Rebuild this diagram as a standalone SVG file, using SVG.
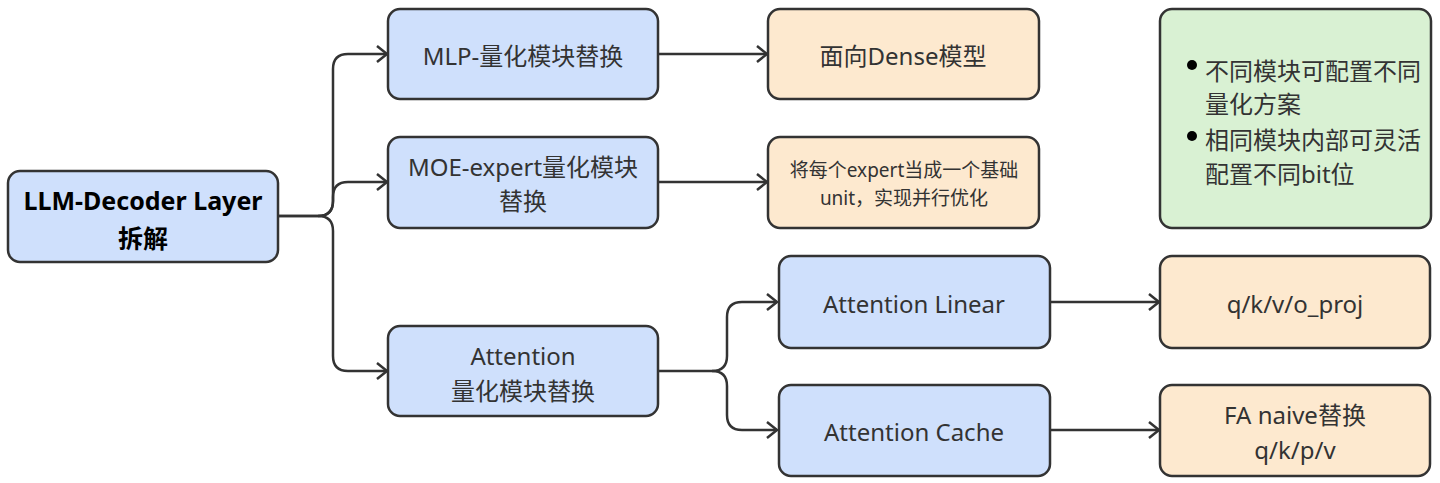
<svg xmlns="http://www.w3.org/2000/svg" width="1440" height="483" viewBox="0 0 1440 483">
<defs>
<style>
.box{stroke:#333;stroke-width:2.5}
.blue{fill:#cfe0fc}
.orange{fill:#fde9cf}
.green{fill:#d9f1d3}
.t{font-family:"Noto Sans","Noto Sans CJK SC",sans-serif;font-size:24px;fill:#333;text-anchor:middle;dominant-baseline:central}
.s{font-size:19px}
.b{font-weight:bold;fill:#000;font-size:25px}
.l{text-anchor:start}
.c{fill:none;stroke:#333;stroke-width:2.5}
</style>
<marker id="arr" markerUnits="userSpaceOnUse" markerWidth="14" markerHeight="20" viewBox="0 0 14 20" refX="12" refY="10" orient="auto">
<path d="M2,2 L12,10 L2,18" fill="none" stroke="#333" stroke-width="2.5"/>
</marker>
</defs>
<rect width="1440" height="483" fill="#fff"/>
<g id="connectors">
<path class="c" d="M278,216 H318 Q333,216 333,201 V69 Q333,54 348,54 H387" marker-end="url(#arr)"/>
<path class="c" d="M318,216 Q333,216 333,201 V197 Q333,182 348,182 H387" marker-end="url(#arr)"/>
<path class="c" d="M278,216 H318 Q333,216 333,231 V356 Q333,371 348,371 H387" marker-end="url(#arr)"/>
<path class="c" d="M658,54 H767" marker-end="url(#arr)"/>
<path class="c" d="M658,182 H767" marker-end="url(#arr)"/>
<path class="c" d="M658,371 H712 Q727,371 727,356 V317 Q727,302 742,302 H777" marker-end="url(#arr)"/>
<path class="c" d="M712,371 Q727,371 727,386 V415 Q727,430 742,430 H777" marker-end="url(#arr)"/>
<path class="c" d="M1050,302 H1159" marker-end="url(#arr)"/>
<path class="c" d="M1050,430 H1159" marker-end="url(#arr)"/>
</g>
<g id="root">
<rect class="box blue" x="8" y="171" width="270" height="91" rx="12"/>
<text class="t b" x="143" y="200">LLM-Decoder Layer</text>
<text class="t b" x="143" y="238">拆解</text>
</g>
<g id="mlp">
<rect class="box blue" x="388" y="9" width="270" height="90" rx="12"/>
<text class="t" x="523" y="55">MLP-量化模块替换</text>
</g>
<g id="moe">
<rect class="box blue" x="388" y="137" width="270" height="91" rx="12"/>
<text class="t" x="523" y="166">MOE-expert量化模块</text>
<text class="t" x="523" y="200">替换</text>
</g>
<g id="attention">
<rect class="box blue" x="388" y="326" width="270" height="90" rx="12"/>
<text class="t" x="523" y="355">Attention</text>
<text class="t" x="523" y="390">量化模块替换</text>
</g>
<g id="dense">
<rect class="box orange" x="768" y="9" width="271" height="90" rx="12"/>
<text class="t" x="903" y="55">面向Dense模型</text>
</g>
<g id="moe-unit">
<rect class="box orange" x="768" y="137" width="271" height="91" rx="12"/>
<text class="t s" x="904" y="170">将每个expert当成一个基础</text>
<text class="t s" x="904" y="198">unit，实现并行优化</text>
</g>
<g id="notes">
<rect class="box green" x="1160" y="9" width="271" height="219" rx="12"/>
<circle cx="1192" cy="65" r="5" fill="#000"/>
<circle cx="1192" cy="136" r="5" fill="#000"/>
<text class="t l" x="1205" y="70">不同模块可配置不同</text>
<text class="t l" x="1205" y="103">量化方案</text>
<text class="t l" x="1205" y="139">相同模块内部可灵活</text>
<text class="t l" x="1205" y="173">配置不同bit位</text>
</g>
<g id="att-linear">
<rect class="box blue" x="779" y="256" width="271" height="92" rx="12"/>
<text class="t" x="914" y="303">Attention Linear</text>
</g>
<g id="att-cache">
<rect class="box blue" x="779" y="385" width="271" height="91" rx="12"/>
<text class="t" x="914" y="431">Attention Cache</text>
</g>
<g id="qkvo">
<rect class="box orange" x="1160" y="256" width="270" height="92" rx="12"/>
<text class="t" x="1295" y="303">q/k/v/o_proj</text>
</g>
<g id="fa">
<rect class="box orange" x="1160" y="385" width="270" height="91" rx="12"/>
<text class="t" x="1295" y="414">FA naive替换</text>
<text class="t" x="1295" y="449">q/k/p/v</text>
</g>
</svg>
